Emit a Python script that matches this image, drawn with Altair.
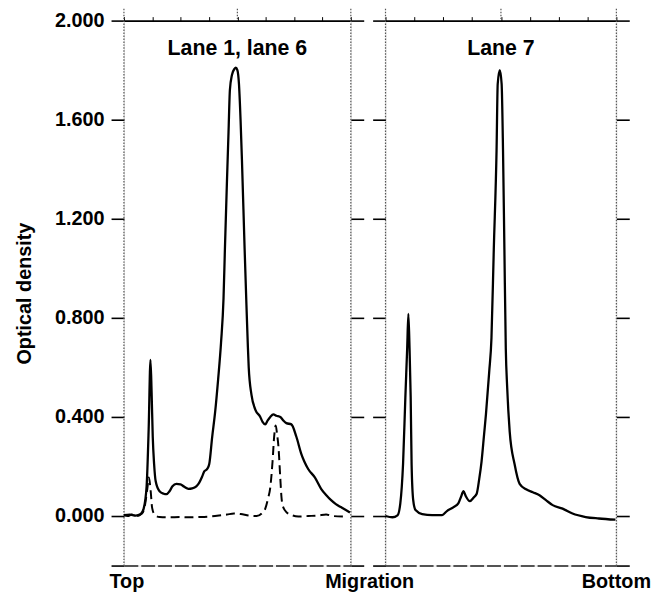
import altair as alt
import pandas as pd

# ---------------- data ----------------
# Left panel (lane 1 solid, lane 6 dashed); x = relative migration (0 = top, 100 = end of panel)
lane1_x = [0, 2.6, 5.2, 7.4, 8.7, 10.0, 10.9, 11.7, 12.2, 12.7, 13.3, 14.0, 15.7, 17.5, 18.8,
           20.1, 21.4, 23.1, 24.9, 26.6, 28.4, 30.1, 31.9, 33.2, 34.5, 35.4, 36.7, 37.6, 38.9,
           40.2, 41.5, 42.8, 43.9, 44.5, 45.4, 46.1, 46.7, 47.6, 48.7, 49.3, 50.0, 50.7, 51.4,
           52.0, 53.2, 54.0, 54.6, 55.0, 56.2, 57.9, 60.1, 61.1, 62.3, 63.3, 64.5, 65.9, 67.2,
           68.9, 70.3, 71.6, 73.8, 76.0, 78.2, 79.5, 81.2, 84.2, 86.9, 89.1, 91.3, 93.4, 95.6,
           97.8, 99.6]
lane1_y = [0.004, 0.006, 0.002, 0.008, 0.03, 0.12, 0.35, 0.63, 0.50, 0.32, 0.21, 0.14, 0.10, 0.09, 0.088,
           0.10, 0.12, 0.13, 0.128, 0.118, 0.11, 0.112, 0.12, 0.135, 0.16, 0.18, 0.19, 0.21, 0.32,
           0.42, 0.55, 0.70, 0.88, 1.076, 1.35, 1.55, 1.72, 1.78, 1.805, 1.81, 1.80, 1.744, 1.60,
           1.44, 1.076, 0.85, 0.69, 0.60, 0.49, 0.43, 0.40, 0.38, 0.37, 0.385, 0.40, 0.41, 0.405,
           0.40, 0.385, 0.375, 0.37, 0.32, 0.25, 0.22, 0.19, 0.155, 0.11, 0.085, 0.064, 0.048, 0.036,
           0.024, 0.014]

lane6_x = [0, 1.7, 3.5, 5.7, 7.9, 9.2, 10.3, 11.0, 11.8, 12.4, 13.5, 15.7, 20.1, 24.5, 28.8,
           33.2, 37.6, 41.9, 45.4, 48.5, 51.5, 55.0, 58.5, 60.7, 62.3, 63.5, 64.5, 65.5, 66.2,
           66.9, 67.5, 68.1, 68.9, 69.4, 69.9, 71.6, 73.8, 76.9, 81.2, 85.6, 89.1, 92.1, 96.5]
lane6_y = [0.004, 0.0, 0.006, 0.0, 0.01, 0.04, 0.11, 0.156, 0.10, 0.035, 0.006, -0.004, -0.005, -0.004, -0.005,
           -0.004, -0.002, 0.002, 0.006, 0.01, 0.008, 0.002, 0.0, 0.01, 0.03, 0.07, 0.115, 0.22, 0.32,
           0.365, 0.33, 0.28, 0.155, 0.08, 0.044, 0.016, 0.004, -0.002, 0.0, 0.002, 0.006, 0.0, -0.002]

# Right panel (lane 7)
lane7_x = [0, 3.0, 5.2, 6.4, 7.6, 8.6, 9.4, 9.9, 10.4, 10.9, 11.3, 12.0, 13.0, 15.9, 20.2, 24.5,
           26.6, 29.5, 31.6, 32.6, 33.8, 34.8, 36.5, 38.2, 39.5, 40.6, 41.6, 42.7, 43.5, 44.9,
           45.9, 46.9, 48.1, 48.6, 49.5, 50.3, 50.9, 51.5, 52.1, 52.7, 53.8, 55.9, 58.1, 60.9,
           63.8, 66.7, 69.5, 72.4, 76.7, 81.0, 86.7, 92.4, 99.6]
lane7_y = [0.0, -0.005, 0.003, 0.05, 0.21, 0.48, 0.68, 0.816, 0.68, 0.48, 0.21, 0.064, 0.024, 0.008, 0.004, 0.004,
           0.02, 0.036, 0.052, 0.075, 0.10, 0.08, 0.06, 0.075, 0.09, 0.15, 0.22, 0.33, 0.41, 0.58,
           0.72, 1.076, 1.476, 1.744, 1.80, 1.744, 1.476, 1.076, 0.676, 0.52, 0.34, 0.21, 0.13, 0.108,
           0.096, 0.084, 0.064, 0.044, 0.03, 0.01, -0.004, -0.01, -0.015]

panel_titles = ["Lane 1, lane 6", "Lane 7"]
axis_words = ["Top", "Migration", "Bottom"]
y_ticks = [-0.2, 0.0, 0.4, 0.8, 1.2, 1.6, 2.0]
x_ticks = [0, 12.5, 25, 37.5, 50, 62.5, 75, 87.5, 100]
panel_edges = [0, 100]

# ---------------- layout constants ----------------
H = 550
W1 = 229
W2 = 233
FONT = "Liberation Sans"
FS = 20
TFS = 21.5

ysc = alt.Scale(domain=[-0.2, 2.0], nice=False, zero=False)
xsc = alt.Scale(domain=[0, 100], nice=False, zero=False)

def y_axis(orient, labels=False, title=None):
    kw = dict(orient=orient, values=y_ticks, domain=False, grid=False,
              ticks=True, tickSize=13, tickWidth=1.6, tickColor="black",
              labels=labels)
    if labels:
        kw.update(labelExpr="datum.value < -0.1 ? '' : format(datum.value, '.3f')",
                  labelFont=FONT, labelFontSize=FS, labelFontWeight="bold",
                  labelColor="black", labelPadding=7)
    if title:
        kw.update(title=title, titleFont=FONT, titleFontSize=FS, titleFontWeight="bold",
                  titleColor="black", titlePadding=20)
    else:
        kw.update(title=None)
    return alt.Axis(**kw)

x_top = alt.Axis(orient="top", values=x_ticks, labels=False, title=None, grid=False,
                 domain=True, domainColor="black", domainWidth=1.6,
                 ticks=True, tickSize=4, tickColor="black", tickWidth=1)
x_bottom = alt.Axis(orient="bottom", labels=False, ticks=False, title=None, grid=False,
                    domain=True, domainColor="#222222", domainWidth=1.6, domainDash=[14, 3])


def panel(solid_x, solid_y, width, title, left_labels, dashed=None, words=()):
    solid_df = pd.DataFrame({"x": solid_x, "y": solid_y})
    solid = alt.Chart(solid_df).mark_line(color="black", strokeWidth=2.3, interpolate="monotone").encode(
        x=alt.X("x:Q", scale=xsc, axis=x_top),
        y=alt.Y("y:Q", scale=ysc,
                axis=y_axis("left", labels=left_labels,
                            title="Optical density" if left_labels else None)),
    )
    if dashed is not None:
        ddf = pd.DataFrame({"x": dashed[0], "y": dashed[1]})
        second = alt.Chart(ddf).mark_line(color="black", strokeWidth=2.0, strokeDash=[9, 5],
                                          interpolate="monotone")
    else:
        ddf = solid_df
        second = alt.Chart(ddf).mark_line(opacity=0)
    second = second.encode(
        x=alt.X("x:Q", scale=xsc, axis=x_bottom),
        y=alt.Y("y:Q", scale=ysc, axis=y_axis("right")),
    )
    edges = alt.Chart(pd.DataFrame({"x": panel_edges})).mark_rule(
        color="#555555", strokeWidth=1.2, strokeDash=[1.5, 1.5]
    ).encode(x=alt.X("x:Q", scale=xsc, axis=None), y=alt.value(-12), y2=alt.value(H))
    center = alt.Chart(pd.DataFrame({"x": [50]})).mark_rule(
        color="#555555", strokeWidth=1.2, strokeDash=[1.5, 1.5]
    ).encode(x=alt.X("x:Q", scale=xsc, axis=None), y=alt.value(-12), y2=alt.value(0))
    ttl = alt.Chart(pd.DataFrame({"t": [title]})).mark_text(
        font=FONT, fontSize=TFS, fontWeight="bold", color="black", align="center", baseline="alphabetic"
    ).encode(x=alt.value(width / 2), y=alt.value(35), text="t:N")
    layers = [edges, center, solid, second, ttl]
    for word, xpos in words:
        layers.append(alt.Chart(pd.DataFrame({"t": [word]})).mark_text(
            font=FONT, fontSize=FS, fontWeight="bold", color="black", align="center", baseline="alphabetic"
        ).encode(x=alt.value(xpos), y=alt.value(H + 23), text="t:N"))
    return alt.layer(*layers).resolve_axis(y="independent", x="independent").properties(
        width=width, height=H)


left = panel(lane1_x, lane1_y, W1, panel_titles[0], True, dashed=(lane6_x, lane6_y),
             words=[(axis_words[0], 3), (axis_words[1], W1 + 19)])
right = panel(lane7_x, lane7_y, W2, panel_titles[1], False,
              words=[(axis_words[2], W2)])

chart = alt.hconcat(left, right, spacing=35, bounds="flush",
                    padding={"left": 6, "top": -4, "right": 5, "bottom": 0}
                    ).configure_view(stroke=None).configure(background="white")

chart.save("out.html", embed_options={"renderer": "svg", "actions": False})
